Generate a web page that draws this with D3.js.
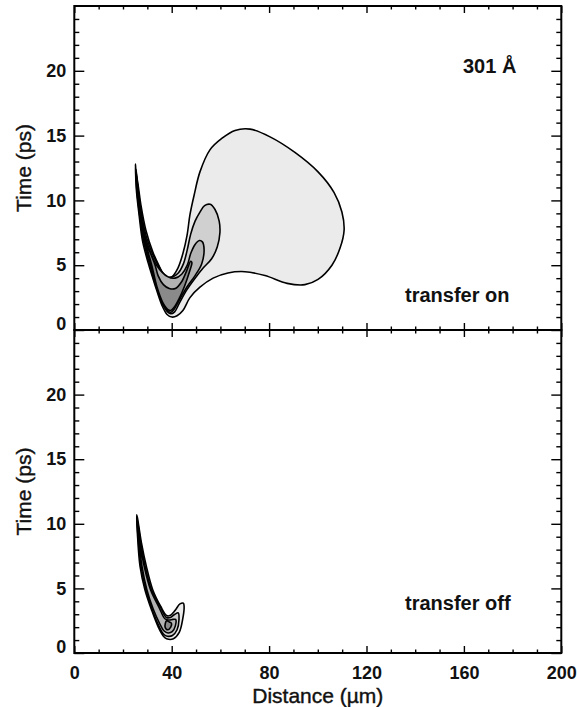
<!DOCTYPE html>
<html>
<head>
<meta charset="utf-8">
<script src="https://cdn.jsdelivr.net/npm/d3@7"></script>
<style>
  body { margin: 0; background: #fff; }
  svg text { font-family: "Liberation Sans", Arial, Helvetica, sans-serif; fill: #111; }
</style>
</head>
<body>
<svg id="chart" width="577" height="707"></svg>
<script>
// ---- axis settings and labels ----
const xMajorTicks = [0, 40, 80, 120, 160, 200];
const yMajorTicks = [0, 5, 10, 15, 20];
const xTitle = "Distance (\u00b5m)";
const yTitle = "Time (ps)";
const sizeLabel = "301 \u00c5";
const panelLabels = ["transfer on", "transfer off"];
const levelFills = ["#ebebeb", "#d0d0d0", "#b3b3b3", "#8a8a8a"];

// ---- contour levels, points as [distance (µm), time (ps)] ----
// transfer on
const onLevel1 = [
  [25.1,12.8],[25.5,10.8],[26.6,8.9],[28.0,6.9],[30.3,5.2],[33.1,3.5],[36.0,1.9],[38.1,1.2],
  [40.1,1.0],[42.2,1.1],[44.6,1.5],[47.5,2.5],[51.6,3.3],[57.0,4.0],[63.1,4.4],[70.1,4.5],
  [78.3,4.2],[87.4,3.6],[94.7,3.5],[100.1,3.9],[105.8,5.0],[109.1,6.3],[110.8,7.7],[109.9,9.1],
  [106.7,10.6],[100.1,12.2],[90.6,13.7],[80.4,14.9],[72.2,15.5],[66.0,15.4],[60.7,14.8],
  [55.7,13.9],[51.6,12.2],[49.2,10.4],[47.5,8.9],[46.3,7.3],[44.6,5.9],[42.6,4.8],[40.1,4.1],
  [37.7,3.9],[35.2,4.8],[32.3,6.0],[29.4,7.7],[27.4,9.6],[26.2,11.2],[25.3,12.3]
];
const onLevel2 = [
  [25.3,12.4],[25.6,11.0],[26.75,9.0],[28.3,7.0],[31.0,5.0],[33.5,3.4],[36.3,2.0],[38.3,1.4],
  [39.6,1.25],[41.2,1.4],[43.2,2.1],[46.2,3.1],[49.6,4.0],[53.0,4.8],[56.4,5.5],[58.7,6.4],
  [59.8,7.5],[59.5,8.4],[57.8,9.3],[55.8,9.7],[53.5,9.6],[51.6,9.1],[49.6,8.4],[47.8,7.4],
  [46.4,6.2],[44.8,5.1],[42.7,4.4],[40.3,4.1],[38.0,4.1],[34.4,5.0],[29.9,7.0],[27.55,9.0],
  [26.1,11.0],[25.45,12.2]
];
const onLevel3 = [
  [25.5,11.9],[25.8,11.0],[26.95,9.0],[28.7,7.0],[31.4,5.0],[33.8,3.3],[36.5,1.95],[38.4,1.5],
  [39.6,1.35],[41.0,1.6],[43.4,2.4],[46.2,3.3],[49.6,4.2],[52.3,5.1],[53.3,6.2],[52.6,6.8],
  [51.4,6.9],[49.6,6.6],[47.8,5.9],[46.4,5.0],[44.1,4.3],[41.4,4.0],[38.5,4.1],[33.8,5.0],
  [29.4,7.0],[27.35,9.0],[26.0,11.0],[25.6,11.7]
];
const onLevel4 = [
  [25.8,11.4],[26.3,10.0],[27.1,9.0],[28.9,7.0],[31.8,5.0],[34.0,3.3],[36.4,2.1],[38.3,1.6],
  [39.6,1.5],[41.0,1.75],[43.0,2.4],[45.3,3.4],[47.3,4.5],[48.3,5.2],[47.8,5.3],[46.2,4.6],
  [44.0,3.7],[41.5,3.2],[39.0,3.2],[36.6,3.5],[34.4,4.2],[33.2,5.0],[29.2,7.0],[27.25,9.0],
  [26.5,10.2],[26.0,11.1]
];
// transfer off
const offLevel1 = [
  [25.6,10.7],[25.9,9.3],[27.0,6.7],[29.0,4.9],[31.8,3.3],[34.5,2.0],[36.6,1.3],[37.9,1.1],
  [40.7,1.1],[43.1,1.6],[44.5,2.6],[45.1,3.6],[44.8,3.85],[43.4,3.8],[41.4,3.3],[39.3,2.9],
  [37.9,2.9],[35.5,3.6],[32.2,4.9],[29.6,6.7],[27.6,8.5],[26.5,9.8],[25.9,10.5]
];
const offLevel2 = [
  [25.75,10.4],[26.1,9.2],[27.4,6.7],[29.4,4.9],[32.1,3.3],[34.7,2.1],[36.7,1.45],[38.2,1.3],
  [40.3,1.35],[42.2,1.8],[43.0,2.6],[42.7,3.1],[41.3,3.0],[39.5,2.75],[37.8,2.75],[35.2,3.6],
  [31.7,4.9],[29.1,6.7],[27.3,8.5],[26.3,9.8]
];
const offLevel3 = [
  [25.9,10.0],[26.4,8.9],[27.8,6.7],[29.8,4.9],[32.4,3.4],[35.0,2.3],[36.9,1.7],[38.5,1.55],
  [40.2,1.65],[41.5,2.1],[41.6,2.6],[40.5,2.6],[38.8,2.55],[37.2,2.65],[34.9,3.5],[31.3,4.9],
  [28.7,6.7],[27.0,8.5],[26.2,9.6]
];
const offLevel4 = [
  [37.3,2.0],[38.4,1.8],[39.6,2.0],[39.9,2.3],[39.0,2.4],[37.9,2.5]
];

const panels = [
  { levels: [onLevel1, onLevel2, onLevel3, onLevel4], label: panelLabels[0], labelY: 302, top: 6, bottom: 330 },
  { levels: [offLevel1, offLevel2, offLevel3, offLevel4], label: panelLabels[1], labelY: 610, top: 330, bottom: 653 }
];

// ---- layout ----
const svg = d3.select("#chart");
const left = 74.3, right = 561.3;
const x = d3.scaleLinear().domain([0, 200]).range([left, right]);
const xMinor = d3.range(0, 201, 10).filter(v => v % 40 !== 0);
const yMinor = d3.range(1, 25).filter(v => v % 5 !== 0);

panels.forEach((p, i) => {
  const y = d3.scaleLinear().domain([0, 25]).range([p.bottom, p.top]);
  const g = svg.append("g");

  const clipId = "clip" + i;
  svg.append("clipPath").attr("id", clipId)
    .append("rect").attr("x", left).attr("y", p.top).attr("width", right - left).attr("height", p.bottom - p.top);

  const line = d3.line()
    .x(d => x(d[0])).y(d => y(d[1]))
    .curve(d3.curveCatmullRomClosed.alpha(0.5));

  g.append("g").attr("clip-path", `url(#${clipId})`)
    .selectAll("path").data(p.levels).join("path")
    .attr("d", line)
    .attr("fill", (d, k) => levelFills[k])
    .attr("stroke", "#000")
    .attr("stroke-width", 1.6)
    .attr("stroke-linejoin", "round");

  // left axis: inward ticks with bold labels
  const yl = g.append("g").attr("transform", `translate(${left},0)`)
    .call(d3.axisLeft(y).tickValues(yMajorTicks).tickSizeInner(-10).tickSizeOuter(0).tickPadding(8));
  g.append("g").attr("transform", `translate(${left},0)`)
    .call(d3.axisLeft(y).tickValues(yMinor).tickSizeInner(-5).tickSizeOuter(0).tickFormat(""));
  // right axis: inward ticks
  g.append("g").attr("transform", `translate(${right},0)`)
    .call(d3.axisRight(y).tickValues(yMajorTicks).tickSizeInner(-10).tickSizeOuter(0).tickFormat(""));
  g.append("g").attr("transform", `translate(${right},0)`)
    .call(d3.axisRight(y).tickValues(yMinor).tickSizeInner(-5).tickSizeOuter(0).tickFormat(""));
  // top and bottom edge ticks pointing into the panel
  g.append("g").attr("transform", `translate(0,${p.top})`)
    .call(d3.axisTop(x).tickValues(xMajorTicks).tickSizeInner(-7).tickSizeOuter(0).tickFormat(""));
  g.append("g").attr("transform", `translate(0,${p.top})`)
    .call(d3.axisTop(x).tickValues(xMinor).tickSizeInner(-3.5).tickSizeOuter(0).tickFormat(""));
  g.append("g").attr("transform", `translate(0,${p.bottom})`)
    .call(d3.axisBottom(x).tickValues(xMajorTicks).tickSizeInner(-7).tickSizeOuter(0).tickPadding(13)
      .tickFormat(i === 1 ? d3.format("d") : ""));
  g.append("g").attr("transform", `translate(0,${p.bottom})`)
    .call(d3.axisBottom(x).tickValues(xMinor).tickSizeInner(-3.5).tickSizeOuter(0).tickFormat(""));

  g.selectAll(".domain").remove();
  g.selectAll(".tick line").attr("stroke", "#000").attr("stroke-width", 1.4);
  g.selectAll(".tick text").attr("font-size", 18).attr("font-weight", "bold")
    .attr("font-family", "'Liberation Sans', Arial, sans-serif").attr("fill", "#111");
  // lift the zero label clear of the axis line
  yl.selectAll(".tick").filter(d => d === 0).select("text").attr("y", -6.5);

  // frame
  g.append("rect")
    .attr("x", left).attr("y", p.top)
    .attr("width", right - left).attr("height", p.bottom - p.top)
    .attr("fill", "none").attr("stroke", "#000").attr("stroke-width", 2);

  g.append("text")
    .attr("x", 405).attr("y", p.labelY)
    .attr("font-size", 20).attr("font-weight", "bold")
    .text(p.label);

  g.append("text")
    .attr("transform", `translate(31,${(p.top + p.bottom) / 2}) rotate(-90)`)
    .attr("text-anchor", "middle")
    .attr("font-size", 21)
    .attr("stroke", "#111").attr("stroke-width", 0.4)
    .text(yTitle);
});

svg.append("text")
  .attr("x", (left + right) / 2).attr("y", 703)
  .attr("text-anchor", "middle")
  .attr("font-size", 21)
  .attr("stroke", "#111").attr("stroke-width", 0.4)
  .text(xTitle);

svg.append("text")
  .attr("x", 463).attr("y", 73)
  .attr("font-size", 20).attr("font-weight", "bold")
  .text(sizeLabel);
</script>
</body>
</html>
